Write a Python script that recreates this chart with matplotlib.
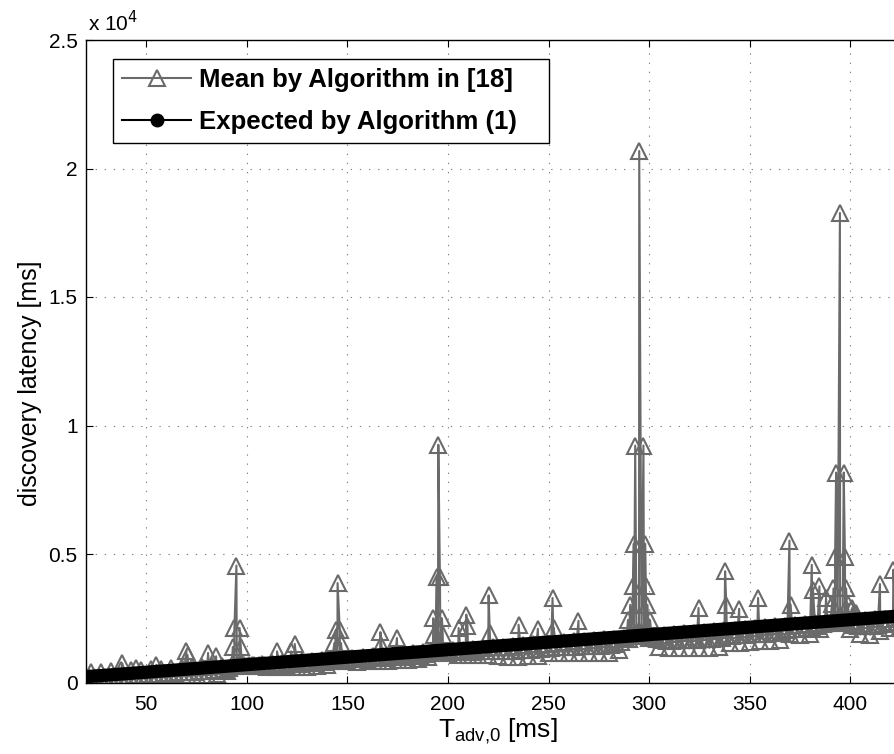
import numpy as np
import matplotlib.pyplot as plt
from matplotlib.lines import Line2D

plt.rcParams['font.family'] = ['Liberation Sans', 'DejaVu Sans']

# expected latency (straight line)
exp_t = [20, 50, 100, 150, 200, 250, 300, 350, 400, 430]
exp_latency = [226, 401, 693, 985, 1277, 1569, 1861, 2153, 2444, 2620]

# simulated mean latency: lower envelope samples
low_t = np.arange(20, 431, 5)
low_latency = [170, 160, 160, 170, 180, 200, 220, 240, 260, 280,
               300, 300, 310, 350, 450, 700, 650, 650, 620, 610,
               610, 620, 620, 640, 680, 850, 820, 800, 820, 840,
               850, 860, 880, 920, 980, 1300, 1150, 1080, 1060, 1060,
               1080, 1020, 1010, 1010, 1020, 1050, 1150, 1140, 1140, 1150,
               1150, 1140, 1150, 1250, 1700, 2000, 1750, 1400, 1340, 1330,
               1330, 1340, 1350, 1400, 1520, 1540, 1560, 1600, 1600, 1650,
               1870, 1860, 1900, 2100, 2300, 2500, 2100, 1870, 1860, 2000,
               2110, 2150, 2200]

# samples in between, close to the expected line
mid_t = np.arange(22.5, 430, 5)
mid_latency = [400, 420, 450, 470, 480, 500, 520, 540, 560, 580,
               600, 620, 640, 660, 700, 720, 700, 720, 740, 760,
               800, 820, 850, 880, 920, 950, 960, 990, 1020, 1050,
               1080, 1110, 1150, 1180, 1220, 1250, 1250, 1280, 1310, 1340,
               1370, 1400, 1420, 1450, 1480, 1510, 1540, 1570, 1600, 1630,
               1650, 1680, 1710, 1750, 1800, 1850, 1820, 1850, 1880, 1910,
               1940, 1970, 2000, 2030, 2060, 2090, 2120, 2150, 2180, 2210,
               2240, 2270, 2300, 2330, 2360, 2400, 2400, 2430, 2460, 2490,
               2520, 2560]

# samples inside the band, one row per 10 ms
inner_t = np.arange(21.25, 430, 2.5)
inner_latency = [
    200, 210, 215, 220,
    230, 240, 245, 255,
    265, 280, 290, 305,
    315, 330, 340, 355,
    365, 380, 390, 400,
    410, 420, 430, 440,
    450, 470, 490, 520,
    580, 650, 680, 670,
    670, 680, 680, 680,
    690, 690, 700, 700,
    710, 720, 730, 740,
    750, 760, 780, 790,
    830, 880, 900, 900,
    900, 900, 910, 920,
    940, 950, 960, 970,
    980, 990, 1000, 1010,
    1030, 1050, 1070, 1090,
    1140, 1230, 1260, 1230,
    1210, 1200, 1190, 1190,
    1200, 1210, 1220, 1230,
    1240, 1220, 1220, 1230,
    1230, 1240, 1250, 1260,
    1270, 1290, 1310, 1340,
    1360, 1370, 1370, 1380,
    1390, 1400, 1410, 1410,
    1420, 1420, 1430, 1440,
    1460, 1500, 1570, 1690,
    1790, 1870, 1890, 1830,
    1760, 1690, 1640, 1630,
    1630, 1640, 1640, 1650,
    1660, 1670, 1680, 1690,
    1700, 1720, 1750, 1790,
    1810, 1830, 1840, 1850,
    1870, 1880, 1900, 1900,
    1920, 1940, 1980, 2040,
    2070, 2080, 2090, 2110,
    2130, 2200, 2260, 2310,
    2370, 2430, 2410, 2320,
    2250, 2200, 2180, 2180,
    2200, 2250, 2290, 2320,
    2340, 2360, 2380, 2400,
]

# outliers / peaks
peak_t = [38.0, 45.1, 55.0, 69.9, 70.5, 80.7, 84.7,
          93.0, 93.8, 94.8, 96.4, 97.0,
          115.0, 122.0, 123.8,
          143.5, 144.2, 145.1, 146.2, 146.8,
          166.4, 166.9, 174.6,
          192.7, 193.2, 194.3, 195.2, 196.0, 197.0, 197.4,
          205.3, 209.1, 209.7, 220.2, 220.8, 235.1, 244.7, 252.0, 252.6, 264.9,
          289.5, 290.6, 292.0, 292.4, 293.1, 295.1, 297.2, 298.1, 298.4, 299.2, 300.5,
          324.6, 337.8, 338.4, 344.8, 354.2, 369.8, 370.4, 380.9, 381.5, 384.7, 388.0,
          391.0, 391.7, 392.5, 393.0, 394.9, 396.8, 397.4, 398.0, 398.8, 401.0, 403.0,
          414.8, 421.5, 426.0]
peak_latency = [750, 560, 690, 1240, 1070, 1150, 1020,
                1380, 2120, 4550, 2120, 1380,
                1210, 1210, 1500,
                1540, 2040, 3870, 2040, 1540,
                1960, 1470, 1730,
                2500, 1850, 4120, 9250, 4120, 2500, 1850,
                2120, 2640, 2200, 3390, 1930, 2250, 2090, 3290, 2120, 2400,
                2430, 3020, 3750, 5400, 9220, 20680, 9220, 5400, 3750, 3020, 2430,
                2900, 4330, 3030, 2870, 3290, 5520, 3030, 4580, 3610, 3740, 3300,
                3070, 3660, 4900, 8170, 18270, 8170, 4900, 3660, 3070, 2900, 2700,
                3830, 4390, 3000]

gray_t = np.concatenate([low_t, mid_t, inner_t, peak_t])
gray_v = np.concatenate([low_latency, mid_latency, inner_latency, peak_latency])
order = np.argsort(gray_t, kind='stable')
gray_t = gray_t[order]
gray_v = gray_v[order]

gray = '#6a6a6a'

fig = plt.figure(figsize=(8.95, 7.54), dpi=100)
ax = fig.add_axes([86 / 895, 71.5 / 754, 824.5 / 895, 642.5 / 754])

ax.plot(gray_t, gray_v, color=gray, lw=1.5, marker='^', ms=12,
        mfc='none', mec=gray, mew=1.5, zorder=2)
ax.plot(exp_t, exp_latency, color='k', lw=9.5, solid_capstyle='round', zorder=3)

ax.set_xlim(20, 430)
ax.set_ylim(0, 25000)
ax.set_xticks(np.arange(50, 401, 50))
ax.set_yticks([0, 5000, 10000, 15000, 20000, 25000])
ax.set_yticklabels(['0', '0.5', '1', '1.5', '2', '2.5'])
ax.tick_params(direction='in', length=5, width=0.8, top=True, right=True,
               labelsize=15)
ax.tick_params(axis='x', pad=9)
ax.tick_params(axis='y', pad=6)
ax.grid(True, color='#808080', lw=0.8, dashes=(1.2, 7))
for s in ax.spines.values():
    s.set_linewidth(1.0)

ax.text(0.003, 1.008, r'x 10$^4$', transform=ax.transAxes, fontsize=15,
        ha='left', va='bottom')

ax.set_xlabel(r'$\mathregular{T_{adv{,}0}}$ [ms]', fontsize=19, labelpad=2)
ax.set_ylabel('discovery latency [ms]', fontsize=18)
ax.yaxis.set_label_coords(-0.053, 0.465)

handles = [
    Line2D([], [], color=gray, lw=1.5, marker='^', ms=12, mfc='none',
           mec=gray, mew=1.5),
    Line2D([], [], color='k', lw=1.5, marker='o', ms=9, mfc='k', mec='k'),
]
leg = ax.legend(handles, ['Mean by Algorithm in [18]', 'Expected by Algorithm (1)'],
                loc='upper left', bbox_to_anchor=(0.0327, 0.8366, 0.5288, 0.1334),
                mode='expand', borderaxespad=0,
                prop={'weight': 'bold', 'size': 18.5}, fancybox=False,
                edgecolor='k', framealpha=1, handlelength=2.7, handletextpad=0.3,
                labelspacing=0.7, borderpad=0.35)
leg.get_frame().set_linewidth(1.0)

fig.savefig('out.png', dpi=100)
